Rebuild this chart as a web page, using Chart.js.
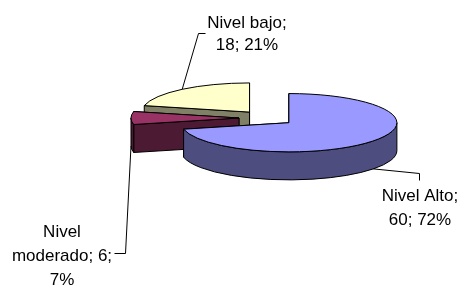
<!DOCTYPE html>
<html>
<head>
<meta charset="utf-8">
<script src="https://cdn.jsdelivr.net/npm/chart.js@4"></script>
<style>
  html, body { margin: 0; padding: 0; background: #fff; }
</style>
</head>
<body>
<canvas id="pie-chart" width="460" height="289"></canvas>
<script>
// data
const categories = ['Nivel Alto', 'Nivel moderado', 'Nivel bajo'];
const counts = [60, 6, 18];
const percents = [72, 7, 21];

const topColors = ['#9999FF', '#993366', '#FFFFCC'];
const sideColors = ['#4D4D80', '#4D1A33', '#808066'];

// label text lines + where excel put them
const labelLines = [
  ['Nivel Alto;', counts[0] + '; ' + percents[0] + '%'],
  ['Nivel', 'moderado; ' + counts[1] + ';', percents[1] + '%'],
  ['Nivel bajo;', counts[2] + '; ' + percents[2] + '%']
];
const labelBox = [
  { x: 420, y: 201, lh: 24, path: [[419, 173], [419, 180]] },
  { x: 62, y: 237, lh: 24, path: [[125, 253], [114, 253]] },
  { x: 247, y: 28, lh: 22, path: [[198, 33], [205, 33]] }
];

const tilt = 0.27;   // vertical squash of the pie
const depth = 28;    // thickness of the pie
const font = '17px "Liberation Sans", Arial, sans-serif';

function centerOf(a) {
  const mid = (a.startAngle + a.endAngle) / 2;
  const off = a.options.offset || 0;
  return { x: a.x + Math.cos(mid) * off, y: a.y + Math.sin(mid) * off * tilt };
}

function drawSlice(ctx, a, i) {
  const c = centerOf(a);
  const r = a.outerRadius;
  const s = a.startAngle, e = a.endAngle;
  ctx.lineWidth = 1;
  ctx.strokeStyle = '#000';
  ctx.lineJoin = 'round';

  // radial walls, back one first
  [s, e].sort((p, q) => Math.sin(p) - Math.sin(q)).forEach(ang => {
    const px = c.x + Math.cos(ang) * r;
    const py = c.y + Math.sin(ang) * r * tilt;
    ctx.beginPath();
    ctx.moveTo(c.x, c.y);
    ctx.lineTo(px, py);
    ctx.lineTo(px, py + depth);
    ctx.lineTo(c.x, c.y + depth);
    ctx.closePath();
    ctx.fillStyle = sideColors[i];
    ctx.fill();
    ctx.stroke();
  });

  // outer wall, front half only
  for (let k = -1; k <= 2; k++) {
    const lo = Math.max(s, 2 * Math.PI * k);
    const hi = Math.min(e, 2 * Math.PI * k + Math.PI);
    if (hi <= lo) continue;
    ctx.beginPath();
    ctx.ellipse(c.x, c.y, r, r * tilt, 0, lo, hi);
    ctx.ellipse(c.x, c.y + depth, r, r * tilt, 0, hi, lo, true);
    ctx.closePath();
    ctx.fillStyle = sideColors[i];
    ctx.fill();
    ctx.stroke();
  }

  // top face
  ctx.beginPath();
  ctx.moveTo(c.x, c.y);
  ctx.ellipse(c.x, c.y, r, r * tilt, 0, s, e);
  ctx.closePath();
  ctx.fillStyle = topColors[i];
  ctx.fill();
  ctx.stroke();
}

const pie3d = {
  id: 'pie3d',
  beforeDatasetsDraw(chart) {
    const ctx = chart.ctx;
    const arcs = chart.getDatasetMeta(0).data;
    const order = arcs.map((a, i) => ({ a, i, y: centerOf(a).y }))
      .sort((p, q) => p.y - q.y);
    ctx.save();
    order.forEach(o => drawSlice(ctx, o.a, o.i));
    ctx.restore();
    return false;
  },
  afterDraw(chart) {
    const ctx = chart.ctx;
    const arcs = chart.getDatasetMeta(0).data;
    ctx.save();
    ctx.font = font;
    ctx.fillStyle = '#000';
    ctx.strokeStyle = '#000';
    ctx.lineWidth = 1;
    ctx.textAlign = 'center';
    ctx.textBaseline = 'alphabetic';
    arcs.forEach((a, i) => {
      const c = centerOf(a);
      const mid = (a.startAngle + a.endAngle) / 2;
      const dz = Math.sin(mid) > -0.2 ? depth : 0;
      const box = labelBox[i];
      ctx.beginPath();
      ctx.moveTo(c.x + Math.cos(mid) * a.outerRadius, c.y + Math.sin(mid) * a.outerRadius * tilt + dz);
      box.path.forEach(p => ctx.lineTo(p[0] + 0.5, p[1] + 0.5));
      ctx.stroke();
      labelLines[i].forEach((t, j) => ctx.fillText(t, box.x, box.y + j * box.lh));
    });
    ctx.restore();
  }
};

const pieCanvas = document.getElementById('pie-chart');

let pieChart = new Chart(pieCanvas, {
  type: 'pie',
  data: {
    labels: categories,
    datasets: [{
      data: counts,
      backgroundColor: topColors,
      borderWidth: 0,
      offset: 28
    }]
  },
  options: {
    responsive: false,
    devicePixelRatio: 1,
    animation: false,
    radius: 108,
    layout: { padding: { left: 74, right: 0, top: 0, bottom: 53 } },
    plugins: {
      legend: { display: false },
      tooltip: { enabled: false }
    }
  },
  plugins: [pie3d]
});
</script>
</body>
</html>
